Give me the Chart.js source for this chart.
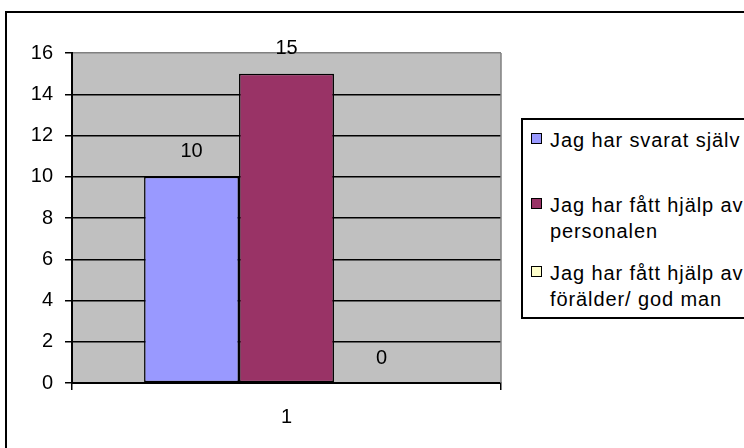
<!DOCTYPE html>
<html>
<head>
<meta charset="utf-8">
<script src="https://cdn.jsdelivr.net/npm/chart.js@4"></script>
<style>
  html, body { margin: 0; padding: 0; background: #fff; overflow: hidden; }
  #wrap { position: relative; width: 744px; height: 448px; overflow: hidden; }
  #frame { position: absolute; left: 5px; top: 11px; width: 800px; height: 500px;
           border: 2px solid #000; }
  #myChart { position: absolute; left: 0; top: 0; }
  #legend { position: absolute; left: 521px; top: 118px; width: 260px; height: 197px;
            border: 2px solid #000; background: #fff;
            font-family: "Liberation Sans", Arial, sans-serif; font-size: 20px; color: #000;
            letter-spacing: 0.9px; }
  .item { position: absolute; left: 27px; width: 205px; line-height: 26px; }
  .box { position: absolute; left: -19px; top: 6px; width: 9px; height: 9px; border: 1px solid #000; }
</style>
</head>
<body>
<div id="wrap">
  <div id="frame"></div>
  <canvas id="myChart" width="744" height="448"></canvas>
  <div id="legend"></div>
</div>
<script>
// data
const categories = ['1'];
const seriesNames = ['Jag har svarat själv', 'Jag har fått hjälp av personalen', 'Jag har fått hjälp av förälder/ god man'];
const svaratSjalv = [10];
const hjalpPersonal = [15];
const hjalpForalder = [0];
const seriesColors = ['#9999FF', '#993366', '#FFFFCC'];
const yTicks = [0, 2, 4, 6, 8, 10, 12, 14, 16];

Chart.defaults.font.family = '"Liberation Sans", Arial, sans-serif';
Chart.defaults.font.size = 20;
Chart.defaults.color = '#000';

// grå bakgrund i ritytan
const plotBg = {
    id: 'plotBg',
    beforeDraw(chart) {
        const a = chart.chartArea;
        const ctx = chart.ctx;
        ctx.save();
        ctx.fillStyle = '#C0C0C0';
        ctx.fillRect(a.left, a.top, a.right - a.left, a.bottom - a.top);
        ctx.restore();
    },
    afterDraw(chart) {
        const a = chart.chartArea;
        const ctx = chart.ctx;
        ctx.save();
        ctx.strokeStyle = '#808080';
        ctx.lineWidth = 1.5;
        ctx.beginPath();
        ctx.moveTo(a.right, a.top);
        ctx.lineTo(a.right, a.bottom);
        ctx.stroke();
        ctx.restore();
    }
};

// värden ovanför staplarna
const valueLabels = {
    id: 'valueLabels',
    afterDatasetsDraw(chart) {
        const ctx = chart.ctx;
        ctx.save();
        ctx.font = '20px "Liberation Sans", Arial, sans-serif';
        ctx.fillStyle = '#000';
        ctx.textAlign = 'center';
        ctx.textBaseline = 'middle';
        chart.data.datasets.forEach(function (ds, i) {
            chart.getDatasetMeta(i).data.forEach(function (bar, j) {
                ctx.fillText(String(ds.data[j]), bar.x, bar.y - 25);
            });
        });
        ctx.restore();
    }
};

const datasets = [svaratSjalv, hjalpPersonal, hjalpForalder].map(function (values, i) {
    return {
        label: seriesNames[i],
        data: values,
        backgroundColor: seriesColors[i],
        borderColor: '#000',
        borderWidth: 1.5,
        borderSkipped: false,
        barPercentage: 1,
        categoryPercentage: 0.664
    };
});

const ctx = document.getElementById('myChart').getContext('2d');
const myChart = new Chart(ctx, {
    type: 'bar',
    data: { labels: categories, datasets: datasets },
    options: {
        responsive: false,
        animation: false,
        layout: { padding: { left: 0, right: 243, top: 53, bottom: 0 } },
        plugins: { legend: { display: false }, tooltip: { enabled: false } },
        scales: {
            x: {
                offset: true,
                grid: { display: true, drawOnChartArea: false, drawTicks: true, tickLength: 7, color: '#000', lineWidth: 1.5, offset: true },
                border: { display: true, color: '#000', width: 2 },
                ticks: { padding: 15 },
                afterFit(scale) { scale.height = 65; }
            },
            y: {
                min: 0,
                max: 16,
                afterBuildTicks(scale) { scale.ticks = yTicks.map(v => ({ value: v })); },
                grid: {
                    color: c => (c.tick && c.tick.value === 16 ? '#808080' : '#000'),
                    tickColor: '#000',
                    lineWidth: 1.5,
                    tickLength: 7
                },
                border: { display: true, color: '#000', width: 2 },
                ticks: { padding: 12 },
                afterFit(scale) { scale.width = 72; }
            }
        }
    },
    plugins: [plotBg, valueLabels]
});

// legend i HTML, byggd från dataseten
const legendTops = [7, 72, 140];
const legend = document.getElementById('legend');
myChart.data.datasets.forEach(function (ds, i) {
    const item = document.createElement('div');
    item.className = 'item';
    item.style.top = legendTops[i] + 'px';
    const box = document.createElement('span');
    box.className = 'box';
    box.style.background = ds.backgroundColor;
    item.appendChild(box);
    item.appendChild(document.createTextNode(ds.label));
    legend.appendChild(item);
});
</script>
</body>
</html>
